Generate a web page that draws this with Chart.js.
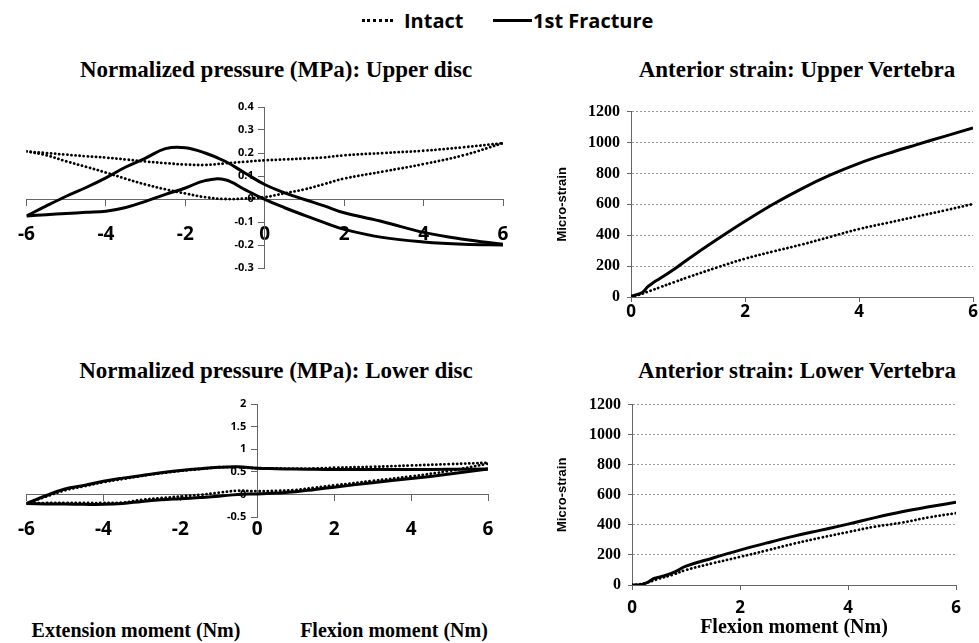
<!DOCTYPE html>
<html>
<head>
<meta charset="utf-8">
<script src="https://cdn.jsdelivr.net/npm/chart.js@4.4.1/dist/chart.umd.min.js"></script>
<style>
  body { margin: 0; background: #fff; width: 979px; height: 643px; position: relative; overflow: hidden; }
  canvas { position: absolute; }
  .title { position: absolute; font: bold 23px "Liberation Serif", "Times New Roman", serif; line-height: 23px; white-space: nowrap; transform: translateX(-50%); color: #000; }
  .axlabel { position: absolute; font: bold 20px "Liberation Serif", "Times New Roman", serif; line-height: 20px; white-space: nowrap; transform: translateX(-50%); color: #000; }
  .leg { position: absolute; font: bold 20px "Open Sans", sans-serif; line-height: 20px; white-space: nowrap; color: #000; }
  .seg { position: absolute; height: 0; }
</style>
</head>
<body>

<div class="seg" style="left:362px; top:19px; width:31px; border-top:3px dotted #000;"></div>
<div class="leg" style="left:404px; top:11px;">Intact</div>
<div class="seg" style="left:493px; top:19px; width:39px; border-top:3px solid #000;"></div>
<div class="leg" style="left:533px; top:11px;">1st Fracture</div>

<div class="title" style="left:276px; top:58px;">Normalized pressure (MPa): Upper disc</div>
<div class="title" style="left:797px; top:58px;">Anterior strain: Upper Vertebra</div>
<div class="title" style="left:276px; top:359px;">Normalized pressure (MPa): Lower disc</div>
<div class="title" style="left:797px; top:359px;">Anterior strain: Lower Vertebra</div>

<div class="axlabel" style="left:136px; top:620px;">Extension moment (Nm)</div>
<div class="axlabel" style="left:394px; top:620px;">Flexion moment (Nm)</div>

<canvas id="upperDisc" width="530" height="200" style="left:0px; top:90px;"></canvas>
<canvas id="lowerDisc" width="530" height="165" style="left:0px; top:385px;"></canvas>
<canvas id="upperVert" width="424" height="230" style="left:555px; top:95px;"></canvas>
<canvas id="lowerVert" width="424" height="255" style="left:555px; top:388px;"></canvas>

<script>
/* ================= DATA ================= */
// moment (Nm) for the disc pressure loops, each loop split in two branches
const momentX = [-6, -5.5, -5, -4.5, -4, -3.5, -3, -2.5, -2, -1.5, -1, -0.5, 0, 0.5, 1, 1.5, 2, 3, 4, 5, 6];

const upperIntactA   = [0.207, 0.2, 0.193, 0.186, 0.18, 0.172, 0.163, 0.156, 0.15, 0.148, 0.155, 0.162, 0.168, 0.172, 0.176, 0.181, 0.19, 0.2, 0.21, 0.225, 0.243];
const upperIntactB   = [0.207, 0.19, 0.164, 0.14, 0.115, 0.088, 0.063, 0.042, 0.024, 0.008, 0.0, 0.002, 0.008, 0.025, 0.042, 0.065, 0.089, 0.12, 0.152, 0.19, 0.243];
const upperFractureA = [-0.074, -0.03, 0.012, 0.05, 0.092, 0.139, 0.178, 0.219, 0.223, 0.2, 0.164, 0.113, 0.063, 0.027, -0.002, -0.03, -0.06, -0.1, -0.145, -0.175, -0.197];
const upperFractureB = [-0.074, -0.068, -0.063, -0.058, -0.053, -0.037, -0.01, 0.02, 0.048, 0.08, 0.084, 0.041, -0.002, -0.038, -0.071, -0.103, -0.132, -0.168, -0.187, -0.197, -0.2];

const lowerIntactA   = [-0.2, -0.05, 0.09, 0.18, 0.27, 0.34, 0.41, 0.47, 0.52, 0.56, 0.6, 0.6, 0.58, 0.575, 0.57, 0.575, 0.59, 0.61, 0.64, 0.67, 0.7];
const lowerIntactB   = [-0.2, -0.19, -0.19, -0.19, -0.19, -0.18, -0.12, -0.08, -0.045, -0.01, 0.04, 0.08, 0.07, 0.08, 0.1, 0.15, 0.2, 0.3, 0.4, 0.52, 0.68];
const lowerFractureA = [-0.2, -0.03, 0.12, 0.2, 0.29, 0.36, 0.42, 0.48, 0.53, 0.57, 0.6, 0.61, 0.58, 0.57, 0.56, 0.555, 0.55, 0.55, 0.55, 0.555, 0.56];
const lowerFractureB = [-0.2, -0.21, -0.215, -0.22, -0.22, -0.2, -0.155, -0.12, -0.095, -0.07, -0.04, 0.0, 0.01, 0.03, 0.06, 0.11, 0.16, 0.26, 0.35, 0.45, 0.56];

const upperDiscTicks = [-0.3, -0.2, -0.1, 0, 0.1, 0.2, 0.3, 0.4];
const lowerDiscTicks = [-0.5, 0, 0.5, 1, 1.5, 2];

// flexion moment (Nm) for the strain curves
const strainX = [0, 0.1, 0.2, 0.3, 0.4, 0.5, 0.75, 1, 1.5, 2, 2.5, 3, 3.5, 4, 4.5, 5, 5.5, 6];
const upperVertIntact   = [0, 10, 22, 35, 48, 62, 95, 128, 190, 248, 295, 340, 390, 440, 480, 520, 560, 602];
const upperVertFracture = [5, 15, 30, 68, 95, 118, 178, 245, 370, 490, 602, 702, 790, 865, 928, 985, 1040, 1095];
const lowerVertIntact   = [0, 3, 8, 18, 30, 42, 68, 100, 145, 187, 230, 275, 315, 352, 388, 415, 450, 478];
const lowerVertFracture = [0, 0, 5, 20, 42, 52, 80, 125, 180, 232, 280, 325, 365, 405, 448, 487, 520, 550];

/* ================= HELPERS ================= */
Chart.defaults.font.family = '"Open Sans", sans-serif';
Chart.defaults.color = "#000";

const serif = '"Liberation Serif", "Times New Roman", serif';

function pts(xs, ys) {
  return xs.map((x, i) => ({ x: x, y: ys[i] }));
}

function intactLine(xs, ys) {
  return {
    data: pts(xs, ys), borderColor: "#000", borderWidth: 2.8,
    borderDash: [0.1, 4], borderCapStyle: "round",
    pointRadius: 0, tension: 0.4, fill: false
  };
}

function fractureLine(xs, ys) {
  return {
    data: pts(xs, ys), borderColor: "#000", borderWidth: 3,
    pointRadius: 0, tension: 0.4, fill: false
  };
}

// y labels for the crossing axes, drawn next to the axis through the y scale
const yLabelPlugin = {
  id: "yLabels",
  beforeDatasetsDraw(chart, args, opts) {
    const { ctx, scales: { x, y } } = chart;
    const x0 = x.getPixelForValue(0) - opts.gap;
    ctx.save();
    ctx.font = 'bold 11px "Open Sans", sans-serif';
    ctx.fillStyle = "#000";
    ctx.textAlign = "right";
    ctx.textBaseline = "middle";
    opts.ticks.forEach(t => ctx.fillText(String(t), x0, y.getPixelForValue(t)));
    ctx.restore();
  }
};

/* ================= DISC PRESSURE ================= */
function discChart(id, datasets, padding, yMin, yMax, yStep, yTicks, gap) {
  new Chart(document.getElementById(id), {
    type: "line",
    data: { datasets: datasets },
    options: {
      responsive: false,
      animation: false,
      layout: { padding: padding },
      plugins: {
        legend: { display: false },
        tooltip: { enabled: false },
        yLabels: { ticks: yTicks, gap: gap }
      },
      scales: {
        x: {
          type: "linear", min: -6, max: 6, position: { y: 0 },
          afterFit: s => { s.height = 0; },
          ticks: { stepSize: 2, maxRotation: 0, autoSkip: false, padding: 18, color: "#000", font: { size: 19, weight: "bold" } },
          grid: { drawOnChartArea: false, tickLength: 6, color: "#666" },
          border: { color: "#666", width: 1 }
        },
        y: {
          type: "linear", min: yMin, max: yMax, position: { x: 0 },
          afterFit: s => { s.width = 0; },
          ticks: { stepSize: yStep, display: false },
          grid: { drawOnChartArea: false, tickLength: 6, color: "#666" },
          border: { color: "#666", width: 1 }
        }
      }
    },
    plugins: [yLabelPlugin]
  });
}

discChart("upperDisc", [
  intactLine(momentX, upperIntactA),
  intactLine(momentX, upperIntactB),
  fractureLine(momentX, upperFractureA),
  fractureLine(momentX, upperFractureB)
], { left: 18, right: 27, top: 17, bottom: 22 }, -0.3, 0.4, 0.1, upperDiscTicks, 11);

discChart("lowerDisc", [
  intactLine(momentX, lowerIntactA),
  intactLine(momentX, lowerIntactB),
  fractureLine(momentX, lowerFractureA),
  fractureLine(momentX, lowerFractureB)
], { left: 19, right: 42, top: 19, bottom: 33 }, -0.5, 2, 0.5, lowerDiscTicks, 11);

/* ================= ANTERIOR STRAIN ================= */
function strainChart(id, datasets, padding, yWidth, xHeight, xPad, xTitle) {
  new Chart(document.getElementById(id), {
    type: "line",
    data: { datasets: datasets },
    options: {
      responsive: false,
      animation: false,
      layout: { padding: padding },
      plugins: { legend: { display: false }, tooltip: { enabled: false } },
      scales: {
        x: {
          type: "linear", min: 0, max: 6, position: "bottom",
          afterFit: s => { s.height = xHeight; },
          ticks: { stepSize: 2, maxRotation: 0, autoSkip: false, padding: xPad, color: "#000", font: { size: 17, weight: "bold" } },
          grid: { drawOnChartArea: false, tickLength: 5, color: "#666" },
          border: { color: "#666", width: 1 },
          title: {
            display: !!xTitle, text: xTitle || "", color: "#000",
            font: { family: serif, size: 20, weight: "bold" },
            padding: { top: 0, bottom: 3 }
          }
        },
        y: {
          type: "linear", min: 0, max: 1200, position: "left",
          afterFit: s => { s.width = yWidth; },
          ticks: {
            stepSize: 200, padding: 7, color: "#000",
            font: { family: serif, size: 16, weight: "bold" },
            callback: v => String(v)
          },
          grid: { drawOnChartArea: true, tickLength: 4, color: "#999", tickColor: "#666", lineWidth: 1 },
          border: { color: "#666", width: 1, dash: [2, 2] },
          title: {
            display: true, text: "Micro-strain", color: "#000",
            font: { family: '"Liberation Sans", Arial, sans-serif', size: 13, weight: "bold" },
            padding: 0
          }
        }
      }
    }
  });
}

strainChart("upperVert", [
  intactLine(strainX, upperVertIntact),
  fractureLine(strainX, upperVertFracture)
], { left: 0, right: 6, top: 14, bottom: 0 }, 76, 28, 0, null);

strainChart("lowerVert", [
  intactLine(strainX, lowerVertIntact),
  fractureLine(strainX, lowerVertFracture)
], { left: 0, right: 23, top: 15, bottom: 0 }, 77, 58, 8, "Flexion moment (Nm)");
</script>
</body>
</html>
